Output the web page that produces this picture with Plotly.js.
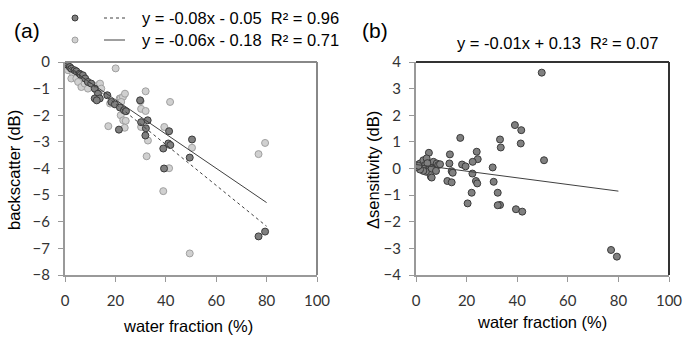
<!DOCTYPE html>
<html>
<head>
<meta charset="utf-8">
<script src="https://cdn.plot.ly/plotly-3.0.1.min.js"></script>
<style>html,body{margin:0;padding:0;background:#fff;}#chart{width:683px;height:337px;}</style>
</head>
<body>
<div id="chart"></div>
<script>
// Panel (a): backscatter vs water fraction, series 1 (dark)
const aDarkX = [0, 0.5, 1, 1.9, 2.5, 3.8, 4.5, 5.8, 6.2, 7.1, 8, 9.1, 10.4, 11.8, 13.1, 11.8, 13.8, 12.6, 16.8, 18.4, 19.8, 21.8, 23.4, 24.2, 21.4, 29.8, 30.2, 32.8, 32.1, 31.9, 41.3, 41.0, 41.8, 39.0, 50.4, 49.5, 39.3, 76.8, 79.4];
const aDarkY = [-0.06, -0.02, -0.1, -0.19, -0.25, -0.31, -0.35, -0.44, -0.48, -0.5, -0.62, -0.75, -0.81, -1.0, -1.19, -1.37, -1.37, -1.44, -1.25, -1.5, -1.59, -1.71, -1.81, -1.85, -2.54, -1.44, -2.26, -2.19, -2.49, -2.76, -2.6, -3.06, -3.12, -3.25, -2.91, -3.59, -4.0, -6.55, -6.37];
// Panel (a): series 2 (light)
const aLightX = [0, 0.8, 1.2, 2, 3.2, 2.5, 4.5, 5.2, 6.5, 7.8, 9.1, 12.4, 13.1, 13.9, 14.4, 20.1, 17.9, 17.2, 21.7, 22.1, 23, 23.8, 22.3, 22.1, 23.1, 24.1, 23.7, 30, 30.2, 32, 30.2, 32.9, 32.4, 32, 39.4, 41.7, 41.3, 39, 50.4, 49.5, 76.8, 79.4];
const aLightY = [0, -0.08, -0.31, -0.2, -0.44, -0.62, -0.62, -0.75, -0.94, -0.81, -1.0, -1.06, -0.87, -0.81, -1.0, -0.24, -1.56, -2.41, -1.37, -1.37, -1.31, -1.19, -1.5, -2.0, -2.19, -2.21, -2.47, -1.47, -1.76, -1.84, -2.44, -2.95, -3.54, -1.1, -2.44, -1.5, -3.99, -4.85, -3.22, -7.19, -3.46, -3.04];
// Trend lines
const trendX = [0, 80];
const aDarkTrendY = [-0.03, -6.17];
const aLightTrendY = [-0.13, -5.28];
// Panel (b): Δsensitivity vs water fraction
const bX = [49.7, 39.1, 41.6, 41.4, 50.6, 33.2, 33.5, 33.2, 39.5, 42, 77.1, 79.4, 17.5, 24, 24.4, 22.4, 13.4, 13.2, 5.1, 18.2, 19.6, 14.1, 14.5, 22.3, 30.3, 12.4, 14.1, 23.7, 24.2, 30.7, 22, 32.3, 20.4, 32.3, 5.9, 0.3, 0.5, 1.6, 2.2, 2.9, 3.6, 4.2, 4.9, 5.5, 6.2, 6.9, 7.5, 8.2, 8.8, 9.5, 3.9, 2.9, 1.6, 6.2, 7.9, 0.3, 1, 4.5];
const bY = [3.6, 1.63, 1.44, 0.94, 0.31, 1.09, 0.79, -1.37, -1.53, -1.62, -3.06, -3.31, 1.15, 0.63, 0.35, 0.25, 0.53, 0.19, 0.59, 0.15, 0.08, -0.1, -0.16, -0.19, 0.04, -0.47, -0.52, -0.47, -0.56, -0.5, -0.91, -0.91, -1.31, -1.38, -0.31, 0.13, 0.04, 0.19, 0, 0.31, 0.13, 0.38, -0.06, -0.19, -0.34, 0.25, 0.06, 0.19, 0.13, 0.16, -0.12, -0.09, -0.04, 0, -0.09, 0.06, 0.1, 0.2];
const bTrendY = [0.15, -0.85];
// Texts
const eqDark = "y = -0.08x - 0.05  R² = 0.96";
const eqLight = "y = -0.06x - 0.18  R² = 0.71";
const eqB = "y = -0.01x + 0.13  R² = 0.07";
const xTicks = [0, 20, 40, 60, 80, 100];

const W = 683, H = 337;
const px = v => v / W, py = v => 1 - v / H;
const txtFont = {family: "Liberation Sans, Arial, sans-serif", size: 16.5, color: "#000"};
const tickFont = {family: "Lato, Liberation Sans, sans-serif", size: 15, color: "#333"};

const traces = [
  {x: aLightX, y: aLightY, xaxis: "x", yaxis: "y", mode: "markers", type: "scatter",
   marker: {size: 7, color: "#d0d0d0", line: {color: "#a0a0a0", width: 1}}},
  {x: aDarkX, y: aDarkY, xaxis: "x", yaxis: "y", mode: "markers", type: "scatter",
   marker: {size: 7, color: "#7f7f7f", line: {color: "#3a3a3a", width: 1}}},
  {x: trendX, y: aDarkTrendY, xaxis: "x", yaxis: "y", mode: "lines", type: "scatter",
   line: {color: "#404040", width: 1, dash: "dot"}},
  {x: trendX, y: aLightTrendY, xaxis: "x", yaxis: "y", mode: "lines", type: "scatter",
   line: {color: "#404040", width: 1}},
  {x: bX, y: bY, xaxis: "x2", yaxis: "y2", mode: "markers", type: "scatter",
   marker: {size: 7, color: "#808080", line: {color: "#3a3a3a", width: 1}}},
  {x: trendX, y: bTrendY, xaxis: "x2", yaxis: "y2", mode: "lines", type: "scatter",
   line: {color: "#404040", width: 1}}
];

const axX = (dom, anchor) => ({domain: dom, anchor: anchor, range: [0, 100], tickvals: xTicks,
  ticks: "outside", ticklen: 5, tickcolor: "#999", tickwidth: 1, showline: true, linecolor: "#999",
  linewidth: 2, showgrid: false, zeroline: false, tickfont: tickFont, ticklabelstandoff: 6});
const axY = (rng, anchor) => ({domain: [py(275), py(62)], anchor: anchor, range: rng, dtick: 1,
  ticks: "outside", ticklen: 5, tickcolor: "#999", tickwidth: 1, showline: true, linecolor: "#999",
  linewidth: 2, showgrid: false, zeroline: false, tickfont: tickFont, ticklabelstandoff: 5});

const layout = {
  width: W, height: H, margin: {l: 0, r: 0, t: 0, b: 0},
  paper_bgcolor: "#fff", plot_bgcolor: "#fff", showlegend: false,
  xaxis: axX([px(65), px(317)], "y"),
  yaxis: axY([-8, 0], "x"),
  xaxis2: axX([px(416), px(669)], "y2"),
  yaxis2: axY([-4, 4], "x2"),
  shapes: [
    {type: "line", xref: "x domain", yref: "y domain", x0: 0, x1: 1, y0: 1, y1: 1, line: {color: "#888", width: 2}},
    {type: "line", xref: "x domain", yref: "y domain", x0: 1, x1: 1, y0: 0, y1: 1, line: {color: "#888", width: 2}},
    {type: "line", xref: "x2 domain", yref: "y2 domain", x0: 0, x1: 1, y0: 1, y1: 1, line: {color: "#333", width: 2}},
    {type: "line", xref: "x2 domain", yref: "y2 domain", x0: 1, x1: 1, y0: 0, y1: 1, line: {color: "#333", width: 2}},
    // legend samples
    {type: "circle", xref: "paper", yref: "paper", x0: px(72), x1: px(78), y0: py(21), y1: py(15), fillcolor: "#7f7f7f", line: {color: "#3a3a3a", width: 1}},
    {type: "circle", xref: "paper", yref: "paper", x0: px(72), x1: px(78), y0: py(43), y1: py(37), fillcolor: "#d0d0d0", line: {color: "#a0a0a0", width: 1}},
    {type: "line", xref: "paper", yref: "paper", x0: px(104), x1: px(125), y0: py(18), y1: py(18), line: {color: "#404040", width: 1, dash: "dot"}},
    {type: "line", xref: "paper", yref: "paper", x0: px(104), x1: px(125), y0: py(40), y1: py(40), line: {color: "#404040", width: 1}}
  ],
  annotations: [
    {text: "(a)", xref: "paper", yref: "paper", x: px(27), y: py(31), showarrow: false, xanchor: "center", yanchor: "middle", font: {family: txtFont.family, size: 21, color: "#000"}},
    {text: "(b)", xref: "paper", yref: "paper", x: px(375), y: py(31), showarrow: false, xanchor: "center", yanchor: "middle", font: {family: txtFont.family, size: 21, color: "#000"}},
    {text: eqDark, xref: "paper", yref: "paper", x: px(140), y: py(18), showarrow: false, xanchor: "left", yanchor: "middle", font: txtFont},
    {text: eqLight, xref: "paper", yref: "paper", x: px(140), y: py(40), showarrow: false, xanchor: "left", yanchor: "middle", font: txtFont},
    {text: eqB, xref: "paper", yref: "paper", x: px(557), y: py(43), showarrow: false, xanchor: "center", yanchor: "middle", font: txtFont},
    {text: "water fraction (%)", xref: "paper", yref: "paper", x: px(188), y: py(326), showarrow: false, xanchor: "center", yanchor: "middle", font: txtFont},
    {text: "water fraction (%)", xref: "paper", yref: "paper", x: px(542), y: py(322), showarrow: false, xanchor: "center", yanchor: "middle", font: txtFont},
    {text: "backscatter (dB)", xref: "paper", yref: "paper", x: px(14), y: py(170), showarrow: false, textangle: -90, xanchor: "center", yanchor: "middle", font: txtFont},
    {text: "Δsensitivity (dB)", xref: "paper", yref: "paper", x: px(373), y: py(170), showarrow: false, textangle: -90, xanchor: "center", yanchor: "middle", font: txtFont}
  ]
};

Plotly.newPlot("chart", traces, layout, {staticPlot: true, displayModeBar: false});
</script>
</body>
</html>
